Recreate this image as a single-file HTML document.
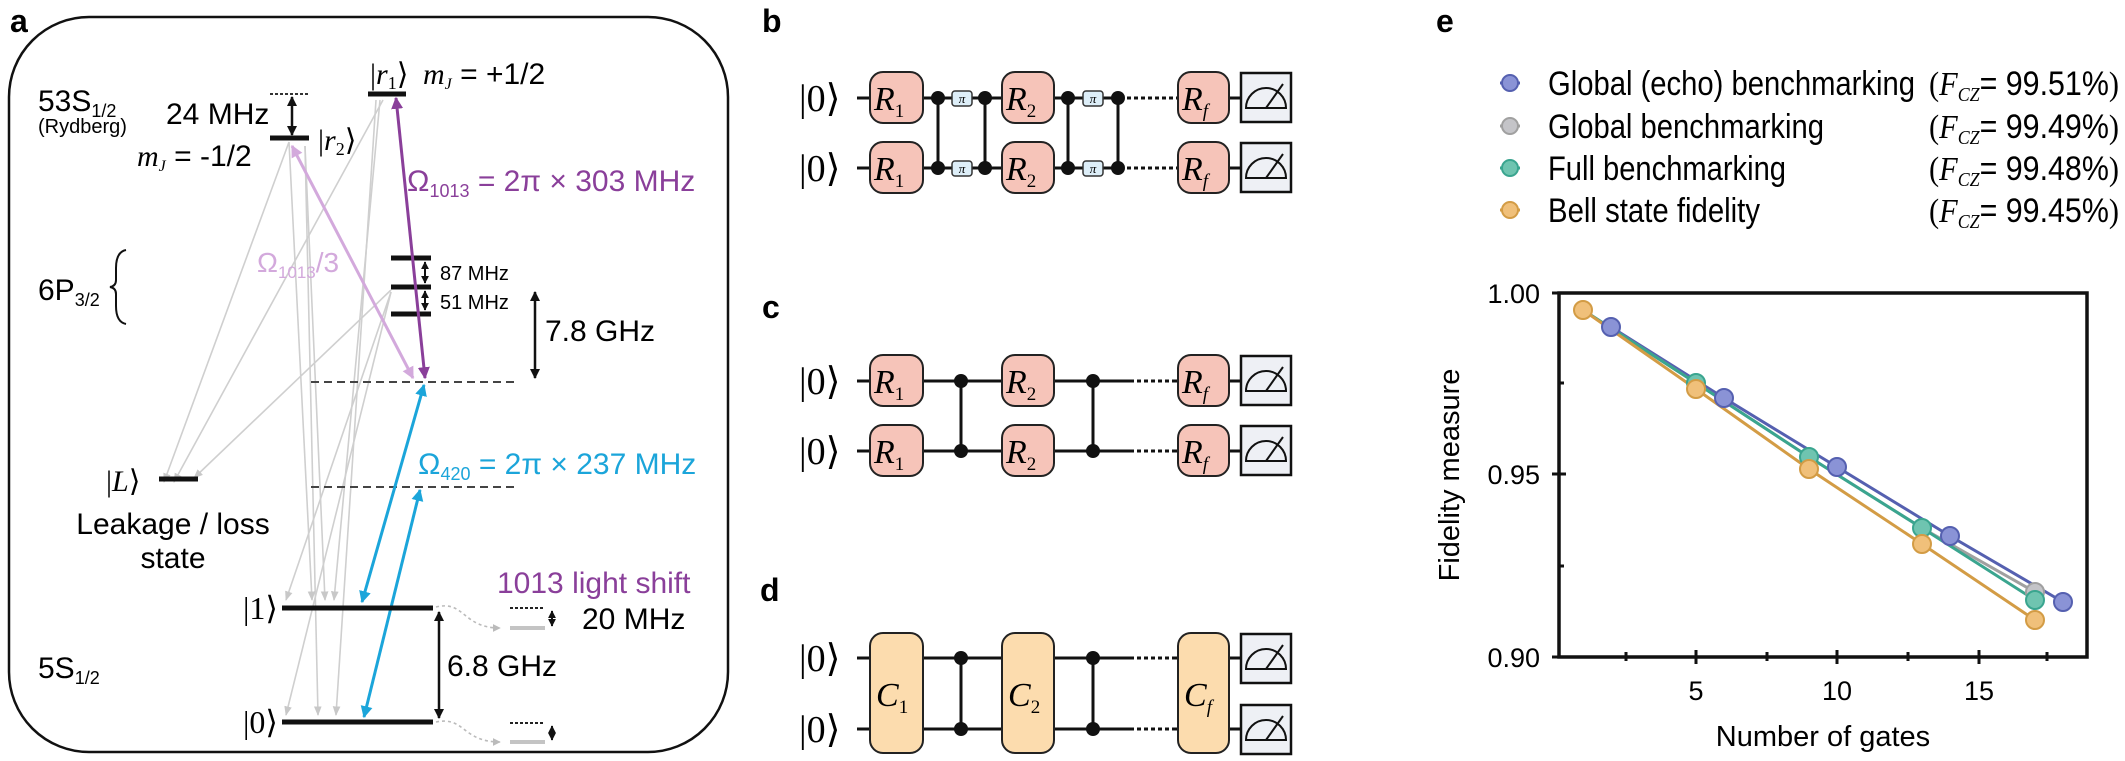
<!DOCTYPE html>
<html><head><meta charset="utf-8"><style>
html,body{margin:0;padding:0;background:#fff;}
svg{display:block;}
text{font-family:"Liberation Sans",sans-serif;}
.s{font-family:"Liberation Serif",serif;}
.i{font-family:"Liberation Serif",serif;font-style:italic;}
</style></head><body>
<svg width="2125" height="761" viewBox="0 0 2125 761" xmlns="http://www.w3.org/2000/svg">
<defs>
<marker id="ag" viewBox="0 0 10 10" refX="9" refY="5" markerWidth="6" markerHeight="6" orient="auto-start-reverse"><path d="M0,1 L10,5 L0,9 z" fill="#c8c8c8"/></marker>
<marker id="ak" viewBox="0 0 10 10" refX="9" refY="5" markerWidth="4" markerHeight="4" orient="auto-start-reverse"><path d="M0,0 L10,5 L0,10 z" fill="#111"/></marker>
<marker id="ap" viewBox="0 0 10 10" refX="9" refY="5" markerWidth="4" markerHeight="4" orient="auto-start-reverse"><path d="M0,0 L10,5 L0,10 z" fill="#8a3f9a"/></marker>
<marker id="alp" viewBox="0 0 10 10" refX="9" refY="5" markerWidth="4" markerHeight="4" orient="auto-start-reverse"><path d="M0,0 L10,5 L0,10 z" fill="#d3a9dc"/></marker>
<marker id="ab" viewBox="0 0 10 10" refX="9" refY="5" markerWidth="4" markerHeight="4" orient="auto-start-reverse"><path d="M0,0 L10,5 L0,10 z" fill="#1ba5da"/></marker>
<marker id="agr" viewBox="0 0 10 10" refX="9" refY="5" markerWidth="5" markerHeight="5" orient="auto"><path d="M0,0 L10,5 L0,10 z" fill="#bbb"/></marker>
</defs>

<!-- Panel a -->
<text x="10" y="32" font-size="32" font-weight="bold">a</text>
<rect x="9" y="17" width="719" height="735" rx="80" ry="80" fill="none" stroke="#111" stroke-width="2.5"/>

<g stroke="#cfcfcf" stroke-width="1.6" fill="none" marker-end="url(#ag)">
<line x1="289" y1="142" x2="164" y2="482"/>
<line x1="383" y1="100" x2="174" y2="482"/>
<line x1="391" y1="290" x2="194" y2="478"/>
<line x1="305" y1="146" x2="325" y2="600"/>
<line x1="305" y1="146" x2="318" y2="715"/>
<line x1="380" y1="100" x2="334" y2="600"/>
<line x1="376" y1="100" x2="336" y2="715"/>
<line x1="391" y1="292" x2="286" y2="600"/>
<line x1="391" y1="292" x2="286" y2="715"/>
<line x1="289" y1="142" x2="312" y2="600"/>
</g>

<text x="38" y="111" font-size="30">53S<tspan font-size="18" dy="6">1/2</tspan></text>
<text x="38" y="133" font-size="20">(Rydberg)</text>
<line x1="270" y1="94" x2="309" y2="94" stroke="#333" stroke-width="2" stroke-dasharray="3,2"/>
<line x1="292" y1="97" x2="292" y2="135" stroke="#111" stroke-width="2.5" marker-start="url(#ak)" marker-end="url(#ak)"/>
<text x="166" y="124" font-size="30">24 MHz</text>
<line x1="270" y1="138" x2="309" y2="138" stroke="#111" stroke-width="5"/>
<text x="318" y="150" font-size="30" class="s">|<tspan class="i">r</tspan><tspan font-size="18" dy="5">2</tspan><tspan dy="-5">⟩</tspan></text>
<text x="137" y="166" font-size="30"><tspan class="i">m</tspan><tspan class="i" font-size="16" dy="5">J</tspan><tspan dy="-5"> = -1/2</tspan></text>
<line x1="368" y1="94" x2="406" y2="94" stroke="#111" stroke-width="5"/>
<text x="370" y="84" font-size="30" class="s">|<tspan class="i">r</tspan><tspan font-size="18" dy="5">1</tspan><tspan dy="-5">⟩</tspan></text>
<text x="423" y="84" font-size="30"><tspan class="i">m</tspan><tspan class="i" font-size="16" dy="5">J</tspan><tspan dy="-5"> = +1/2</tspan></text>

<text x="38" y="300" font-size="30">6P<tspan font-size="18" dy="6">3/2</tspan></text>
<path d="M126,250 Q116,252 116,268 L116,280 Q116,286 110,287 Q116,288 116,294 L116,306 Q116,322 126,324" fill="none" stroke="#111" stroke-width="2"/>
<g stroke="#111" stroke-width="5"><line x1="391" y1="258" x2="431" y2="258"/><line x1="391" y1="287" x2="431" y2="287"/><line x1="391" y1="314" x2="431" y2="314"/></g>
<line x1="425" y1="262" x2="425" y2="283" stroke="#111" stroke-width="2" marker-start="url(#ak)" marker-end="url(#ak)"/>
<line x1="425" y1="291" x2="425" y2="310" stroke="#111" stroke-width="2" marker-start="url(#ak)" marker-end="url(#ak)"/>
<text x="440" y="280" font-size="20">87 MHz</text>
<text x="440" y="309" font-size="20">51 MHz</text>
<line x1="535" y1="292" x2="535" y2="378" stroke="#111" stroke-width="2.5" marker-start="url(#ak)" marker-end="url(#ak)"/>
<text x="545" y="341" font-size="30">7.8 GHz</text>

<line x1="311" y1="382" x2="514" y2="382" stroke="#444" stroke-width="2" stroke-dasharray="8,5"/>
<line x1="311" y1="487" x2="514" y2="487" stroke="#444" stroke-width="2" stroke-dasharray="8,5"/>

<line x1="292" y1="146" x2="413" y2="378" stroke="#d3a9dc" stroke-width="3" marker-start="url(#alp)" marker-end="url(#alp)"/>
<line x1="396" y1="98" x2="425" y2="378" stroke="#8a3f9a" stroke-width="3" marker-start="url(#ap)" marker-end="url(#ap)"/>
<text x="257" y="272" font-size="28" fill="#d3a9dc">Ω<tspan font-size="17" dy="6">1013</tspan><tspan dy="-6">/3</tspan></text>
<text x="407" y="191" font-size="30" fill="#8a3f9a">Ω<tspan font-size="18" dy="6">1013</tspan><tspan dy="-6"> = 2π × 303 MHz</tspan></text>
<line x1="424" y1="385" x2="362" y2="602" stroke="#1ba5da" stroke-width="3" marker-start="url(#ab)" marker-end="url(#ab)"/>
<line x1="420" y1="490" x2="364" y2="717" stroke="#1ba5da" stroke-width="3" marker-start="url(#ab)" marker-end="url(#ab)"/>
<text x="418" y="474" font-size="30" fill="#1ba5da">Ω<tspan font-size="18" dy="6">420</tspan><tspan dy="-6"> = 2π × 237 MHz</tspan></text>

<text x="106" y="491" font-size="30" class="s">|<tspan class="i">L</tspan>⟩</text>
<line x1="159" y1="479" x2="198" y2="479" stroke="#111" stroke-width="5"/>
<text x="173" y="534" font-size="30" text-anchor="middle">Leakage / loss</text>
<text x="173" y="568" font-size="30" text-anchor="middle">state</text>

<text x="243" y="619" font-size="32" class="s">|1⟩</text>
<text x="243" y="733" font-size="32" class="s">|0⟩</text>
<line x1="282" y1="608" x2="433" y2="608" stroke="#111" stroke-width="5"/>
<line x1="282" y1="722" x2="433" y2="722" stroke="#111" stroke-width="5"/>
<line x1="439" y1="612" x2="439" y2="718" stroke="#111" stroke-width="2.5" marker-start="url(#ak)" marker-end="url(#ak)"/>
<text x="447" y="676" font-size="30">6.8 GHz</text>
<text x="38" y="678" font-size="30">5S<tspan font-size="18" dy="6">1/2</tspan></text>
<text x="497" y="593" font-size="30" fill="#8a3f9a">1013 light shift</text>
<text x="582" y="629" font-size="30">20 MHz</text>
<g fill="none" stroke="#bbb" stroke-width="1.6" stroke-dasharray="3,3">
<path d="M436,607 C465,600 462,628 500,628" marker-end="url(#agr)"/>
<path d="M436,722 C465,716 462,742 500,742" marker-end="url(#agr)"/>
</g>
<g stroke="#222" stroke-width="2" stroke-dasharray="3,2"><line x1="510" y1="608" x2="545" y2="608"/><line x1="510" y1="723" x2="545" y2="723"/></g>
<g stroke="#c4c4c4" stroke-width="4"><line x1="510" y1="628" x2="545" y2="628"/><line x1="510" y1="742" x2="545" y2="742"/></g>
<line x1="552" y1="611" x2="552" y2="626" stroke="#111" stroke-width="2" marker-start="url(#ak)" marker-end="url(#ak)"/>
<line x1="552" y1="726" x2="552" y2="740" stroke="#111" stroke-width="2" marker-start="url(#ak)" marker-end="url(#ak)"/>

<!-- Panels b,c,d -->
<text x="762" y="32" font-size="32" font-weight="bold">b</text>
<text x="762" y="318" font-size="32" font-weight="bold">c</text>
<text x="760" y="601" font-size="32" font-weight="bold">d</text>

<g font-size="38">
<text x="799" y="111" class="s">|0⟩</text><text x="799" y="181" class="s">|0⟩</text>
<text x="799" y="394" class="s">|0⟩</text><text x="799" y="464" class="s">|0⟩</text>
<text x="799" y="671" class="s">|0⟩</text><text x="799" y="742" class="s">|0⟩</text>
</g>

<g stroke="#111" stroke-width="3">
<line x1="857" y1="98" x2="1118" y2="98"/><line x1="857" y1="168" x2="1118" y2="168"/>
<line x1="1176" y1="98" x2="1241" y2="98"/><line x1="1176" y1="168" x2="1241" y2="168"/>
<line x1="857" y1="381" x2="1130" y2="381"/><line x1="857" y1="451" x2="1130" y2="451"/>
<line x1="1176" y1="381" x2="1241" y2="381"/><line x1="1176" y1="451" x2="1241" y2="451"/>
<line x1="857" y1="658" x2="1130" y2="658"/><line x1="857" y1="729" x2="1130" y2="729"/>
<line x1="1176" y1="658" x2="1241" y2="658"/><line x1="1176" y1="729" x2="1241" y2="729"/>
<line x1="938" y1="98" x2="938" y2="168"/><line x1="985" y1="98" x2="985" y2="168"/>
<line x1="1068" y1="98" x2="1068" y2="168"/><line x1="1118" y1="98" x2="1118" y2="168"/>
<line x1="961" y1="381" x2="961" y2="451"/><line x1="1093" y1="381" x2="1093" y2="451"/>
<line x1="961" y1="658" x2="961" y2="729"/><line x1="1093" y1="658" x2="1093" y2="729"/>
</g>
<g stroke="#111" stroke-width="3" stroke-dasharray="4,3">
<line x1="1120" y1="98" x2="1176" y2="98"/><line x1="1120" y1="168" x2="1176" y2="168"/>
<line x1="1130" y1="381" x2="1176" y2="381"/><line x1="1130" y1="451" x2="1176" y2="451"/>
<line x1="1130" y1="658" x2="1176" y2="658"/><line x1="1130" y1="729" x2="1176" y2="729"/>
</g>
<g fill="#111">
<circle cx="938" cy="98" r="7"/><circle cx="938" cy="168" r="7"/><circle cx="985" cy="98" r="7"/><circle cx="985" cy="168" r="7"/>
<circle cx="1068" cy="98" r="7"/><circle cx="1068" cy="168" r="7"/><circle cx="1118" cy="98" r="7"/><circle cx="1118" cy="168" r="7"/>
<circle cx="961" cy="381" r="7"/><circle cx="961" cy="451" r="7"/><circle cx="1093" cy="381" r="7"/><circle cx="1093" cy="451" r="7"/>
<circle cx="961" cy="658" r="7"/><circle cx="961" cy="729" r="7"/><circle cx="1093" cy="658" r="7"/><circle cx="1093" cy="729" r="7"/>
</g>
<g fill="#ddeef8" stroke="#333" stroke-width="1.5">
<rect x="952" y="91" width="20" height="15" rx="3"/><rect x="952" y="161" width="20" height="15" rx="3"/>
<rect x="1083" y="91" width="20" height="15" rx="3"/><rect x="1083" y="161" width="20" height="15" rx="3"/>
</g>
<g font-size="13" text-anchor="middle">
<text x="962" y="103" class="i">π</text><text x="962" y="173" class="i">π</text>
<text x="1093" y="103" class="i">π</text><text x="1093" y="173" class="i">π</text>
</g>

<g fill="#f6c4b9" stroke="#222" stroke-width="2">
<rect x="870" y="72" width="53" height="51" rx="13"/><rect x="870" y="142" width="53" height="51" rx="13"/>
<rect x="1002" y="72" width="52" height="51" rx="13"/><rect x="1002" y="142" width="52" height="51" rx="13"/>
<rect x="1178" y="72" width="51" height="51" rx="13"/><rect x="1178" y="142" width="51" height="51" rx="13"/>
<rect x="870" y="355" width="53" height="51" rx="13"/><rect x="870" y="425" width="53" height="51" rx="13"/>
<rect x="1002" y="355" width="52" height="51" rx="13"/><rect x="1002" y="425" width="52" height="51" rx="13"/>
<rect x="1178" y="355" width="51" height="51" rx="13"/><rect x="1178" y="425" width="51" height="51" rx="13"/>
</g>
<g fill="#fcdcae" stroke="#222" stroke-width="2">
<rect x="870" y="633" width="53" height="120" rx="13"/><rect x="1002" y="633" width="52" height="120" rx="13"/><rect x="1178" y="633" width="51" height="120" rx="13"/>
</g>
<g font-size="34">
<text x="874" y="110" class="i">R<tspan class="s" font-style="normal" font-size="19" dy="7">1</tspan></text>
<text x="874" y="180" class="i">R<tspan class="s" font-style="normal" font-size="19" dy="7">1</tspan></text>
<text x="1006" y="110" class="i">R<tspan class="s" font-style="normal" font-size="19" dy="7">2</tspan></text>
<text x="1006" y="180" class="i">R<tspan class="s" font-style="normal" font-size="19" dy="7">2</tspan></text>
<text x="1182" y="110" class="i">R<tspan font-size="19" dy="7">f</tspan></text>
<text x="1182" y="180" class="i">R<tspan font-size="19" dy="7">f</tspan></text>
<text x="874" y="393" class="i">R<tspan class="s" font-style="normal" font-size="19" dy="7">1</tspan></text>
<text x="874" y="463" class="i">R<tspan class="s" font-style="normal" font-size="19" dy="7">1</tspan></text>
<text x="1006" y="393" class="i">R<tspan class="s" font-style="normal" font-size="19" dy="7">2</tspan></text>
<text x="1006" y="463" class="i">R<tspan class="s" font-style="normal" font-size="19" dy="7">2</tspan></text>
<text x="1182" y="393" class="i">R<tspan font-size="19" dy="7">f</tspan></text>
<text x="1182" y="463" class="i">R<tspan font-size="19" dy="7">f</tspan></text>
<text x="876" y="706" class="i">C<tspan class="s" font-style="normal" font-size="19" dy="7">1</tspan></text>
<text x="1008" y="706" class="i">C<tspan class="s" font-style="normal" font-size="19" dy="7">2</tspan></text>
<text x="1184" y="706" class="i">C<tspan font-size="19" dy="7">f</tspan></text>
</g>
<g fill="#eef0f5" stroke="#111" stroke-width="2.5">
<rect x="1241" y="73" width="50" height="49"/><rect x="1241" y="143" width="50" height="49"/>
<rect x="1241" y="356" width="50" height="49"/><rect x="1241" y="426" width="50" height="49"/>
<rect x="1241" y="634" width="50" height="49"/><rect x="1241" y="705" width="50" height="49"/>
</g>
<g fill="none" stroke="#111" stroke-width="2">
<path d="M1246,108 A20,20 0 0 1 1286,108 Z M1266,108 L1283,84"/>
<path d="M1246,178 A20,20 0 0 1 1286,178 Z M1266,178 L1283,154"/>
<path d="M1246,391 A20,20 0 0 1 1286,391 Z M1266,391 L1283,367"/>
<path d="M1246,461 A20,20 0 0 1 1286,461 Z M1266,461 L1283,437"/>
<path d="M1246,669 A20,20 0 0 1 1286,669 Z M1266,669 L1283,645"/>
<path d="M1246,740 A20,20 0 0 1 1286,740 Z M1266,740 L1283,716"/>
</g>

<!-- Panel e -->
<text x="1436" y="32" font-size="32" font-weight="bold">e</text>
<g stroke-width="3">
<line x1="1500" y1="83" x2="1520" y2="83" stroke="#5560b0"/><circle cx="1510" cy="83" r="8" fill="#8a93d6" stroke="#5560b0" stroke-width="2"/>
<line x1="1500" y1="126" x2="1520" y2="126" stroke="#a0a0a0"/><circle cx="1510" cy="126" r="8" fill="#c4c4c8" stroke="#a0a0a0" stroke-width="2"/>
<line x1="1500" y1="168" x2="1520" y2="168" stroke="#3aa58f"/><circle cx="1510" cy="168" r="8" fill="#6fc4b0" stroke="#3aa58f" stroke-width="2"/>
<line x1="1500" y1="210" x2="1520" y2="210" stroke="#d39c45"/><circle cx="1510" cy="210" r="8" fill="#f0c07a" stroke="#d39c45" stroke-width="2"/>
</g>
<g font-size="34">
<text x="1548" y="95" textLength="367" lengthAdjust="spacingAndGlyphs">Global (echo) benchmarking</text>
<text x="1548" y="138" textLength="276" lengthAdjust="spacingAndGlyphs">Global benchmarking</text>
<text x="1548" y="180" textLength="238" lengthAdjust="spacingAndGlyphs">Full benchmarking</text>
<text x="1548" y="222" textLength="212" lengthAdjust="spacingAndGlyphs">Bell state fidelity</text>
<text x="1929" y="95" textLength="190" lengthAdjust="spacingAndGlyphs"><tspan class="s">(</tspan><tspan class="i">F</tspan><tspan class="i" font-size="20" dy="6">CZ</tspan><tspan dy="-6">= 99.51%</tspan><tspan class="s">)</tspan></text>
<text x="1929" y="138" textLength="190" lengthAdjust="spacingAndGlyphs"><tspan class="s">(</tspan><tspan class="i">F</tspan><tspan class="i" font-size="20" dy="6">CZ</tspan><tspan dy="-6">= 99.49%</tspan><tspan class="s">)</tspan></text>
<text x="1929" y="180" textLength="190" lengthAdjust="spacingAndGlyphs"><tspan class="s">(</tspan><tspan class="i">F</tspan><tspan class="i" font-size="20" dy="6">CZ</tspan><tspan dy="-6">= 99.48%</tspan><tspan class="s">)</tspan></text>
<text x="1929" y="222" textLength="190" lengthAdjust="spacingAndGlyphs"><tspan class="s">(</tspan><tspan class="i">F</tspan><tspan class="i" font-size="20" dy="6">CZ</tspan><tspan dy="-6">= 99.45%</tspan><tspan class="s">)</tspan></text>
</g>

<rect x="1559" y="293" width="528" height="364" fill="none" stroke="#111" stroke-width="3.5"/>
<g stroke="#111" stroke-width="3">
<line x1="1552" y1="293" x2="1559" y2="293"/><line x1="1552" y1="474" x2="1566" y2="474"/><line x1="1552" y1="657" x2="1559" y2="657"/>
<line x1="1559" y1="383" x2="1564" y2="383"/><line x1="1559" y1="566" x2="1564" y2="566"/>
<line x1="1696" y1="650" x2="1696" y2="664"/><line x1="1837" y1="650" x2="1837" y2="664"/><line x1="1979" y1="650" x2="1979" y2="664"/>
<line x1="1626" y1="652" x2="1626" y2="661"/><line x1="1767" y1="652" x2="1767" y2="661"/><line x1="1908" y1="652" x2="1908" y2="661"/><line x1="2047" y1="652" x2="2047" y2="661"/>
</g>
<g font-size="27" text-anchor="end">
<text x="1540" y="303">1.00</text><text x="1540" y="484">0.95</text><text x="1540" y="667">0.90</text>
</g>
<g font-size="27" text-anchor="middle">
<text x="1696" y="700">5</text><text x="1837" y="700">10</text><text x="1979" y="700">15</text>
<text x="1823" y="746" font-size="29">Number of gates</text>
<text transform="translate(1459,475) rotate(-90)" font-size="29">Fidelity measure</text>
</g>

<polyline points="1611,327 1724,398 1837,467 1950,536 2063,602" fill="none" stroke="#5560b0" stroke-width="3"/>
<polyline points="1583,310 1696,383 1809,457 1922,528 2035,592" fill="none" stroke="#a0a0a0" stroke-width="3"/>
<polyline points="1583,310 1696,383 1809,457 1922,528 2035,600" fill="none" stroke="#3aa58f" stroke-width="3"/>
<polyline points="1583,310 1696,389 1809,469 1922,544 2035,620" fill="none" stroke="#d39c45" stroke-width="3"/>
<g stroke="#5560b0" fill="#8a93d6" stroke-width="2">
<circle cx="1611" cy="327" r="9"/><circle cx="1724" cy="398" r="9"/><circle cx="1837" cy="467" r="9"/><circle cx="1950" cy="536" r="9"/><circle cx="2063" cy="602" r="9"/>
</g>
<g stroke="#a0a0a0" fill="#c4c4c8" stroke-width="2"><circle cx="2035" cy="592" r="9"/></g>
<g stroke="#3aa58f" fill="#6fc4b0" stroke-width="2">
<circle cx="1696" cy="383" r="9"/><circle cx="1809" cy="457" r="9"/><circle cx="1922" cy="528" r="9"/><circle cx="2035" cy="600" r="9"/>
</g>
<g stroke="#d39c45" fill="#f0c07a" stroke-width="2">
<circle cx="1583" cy="310" r="9"/><circle cx="1696" cy="389" r="9"/><circle cx="1809" cy="469" r="9"/><circle cx="1922" cy="544" r="9"/><circle cx="2035" cy="620" r="9"/>
</g>
</svg>
</body></html>
